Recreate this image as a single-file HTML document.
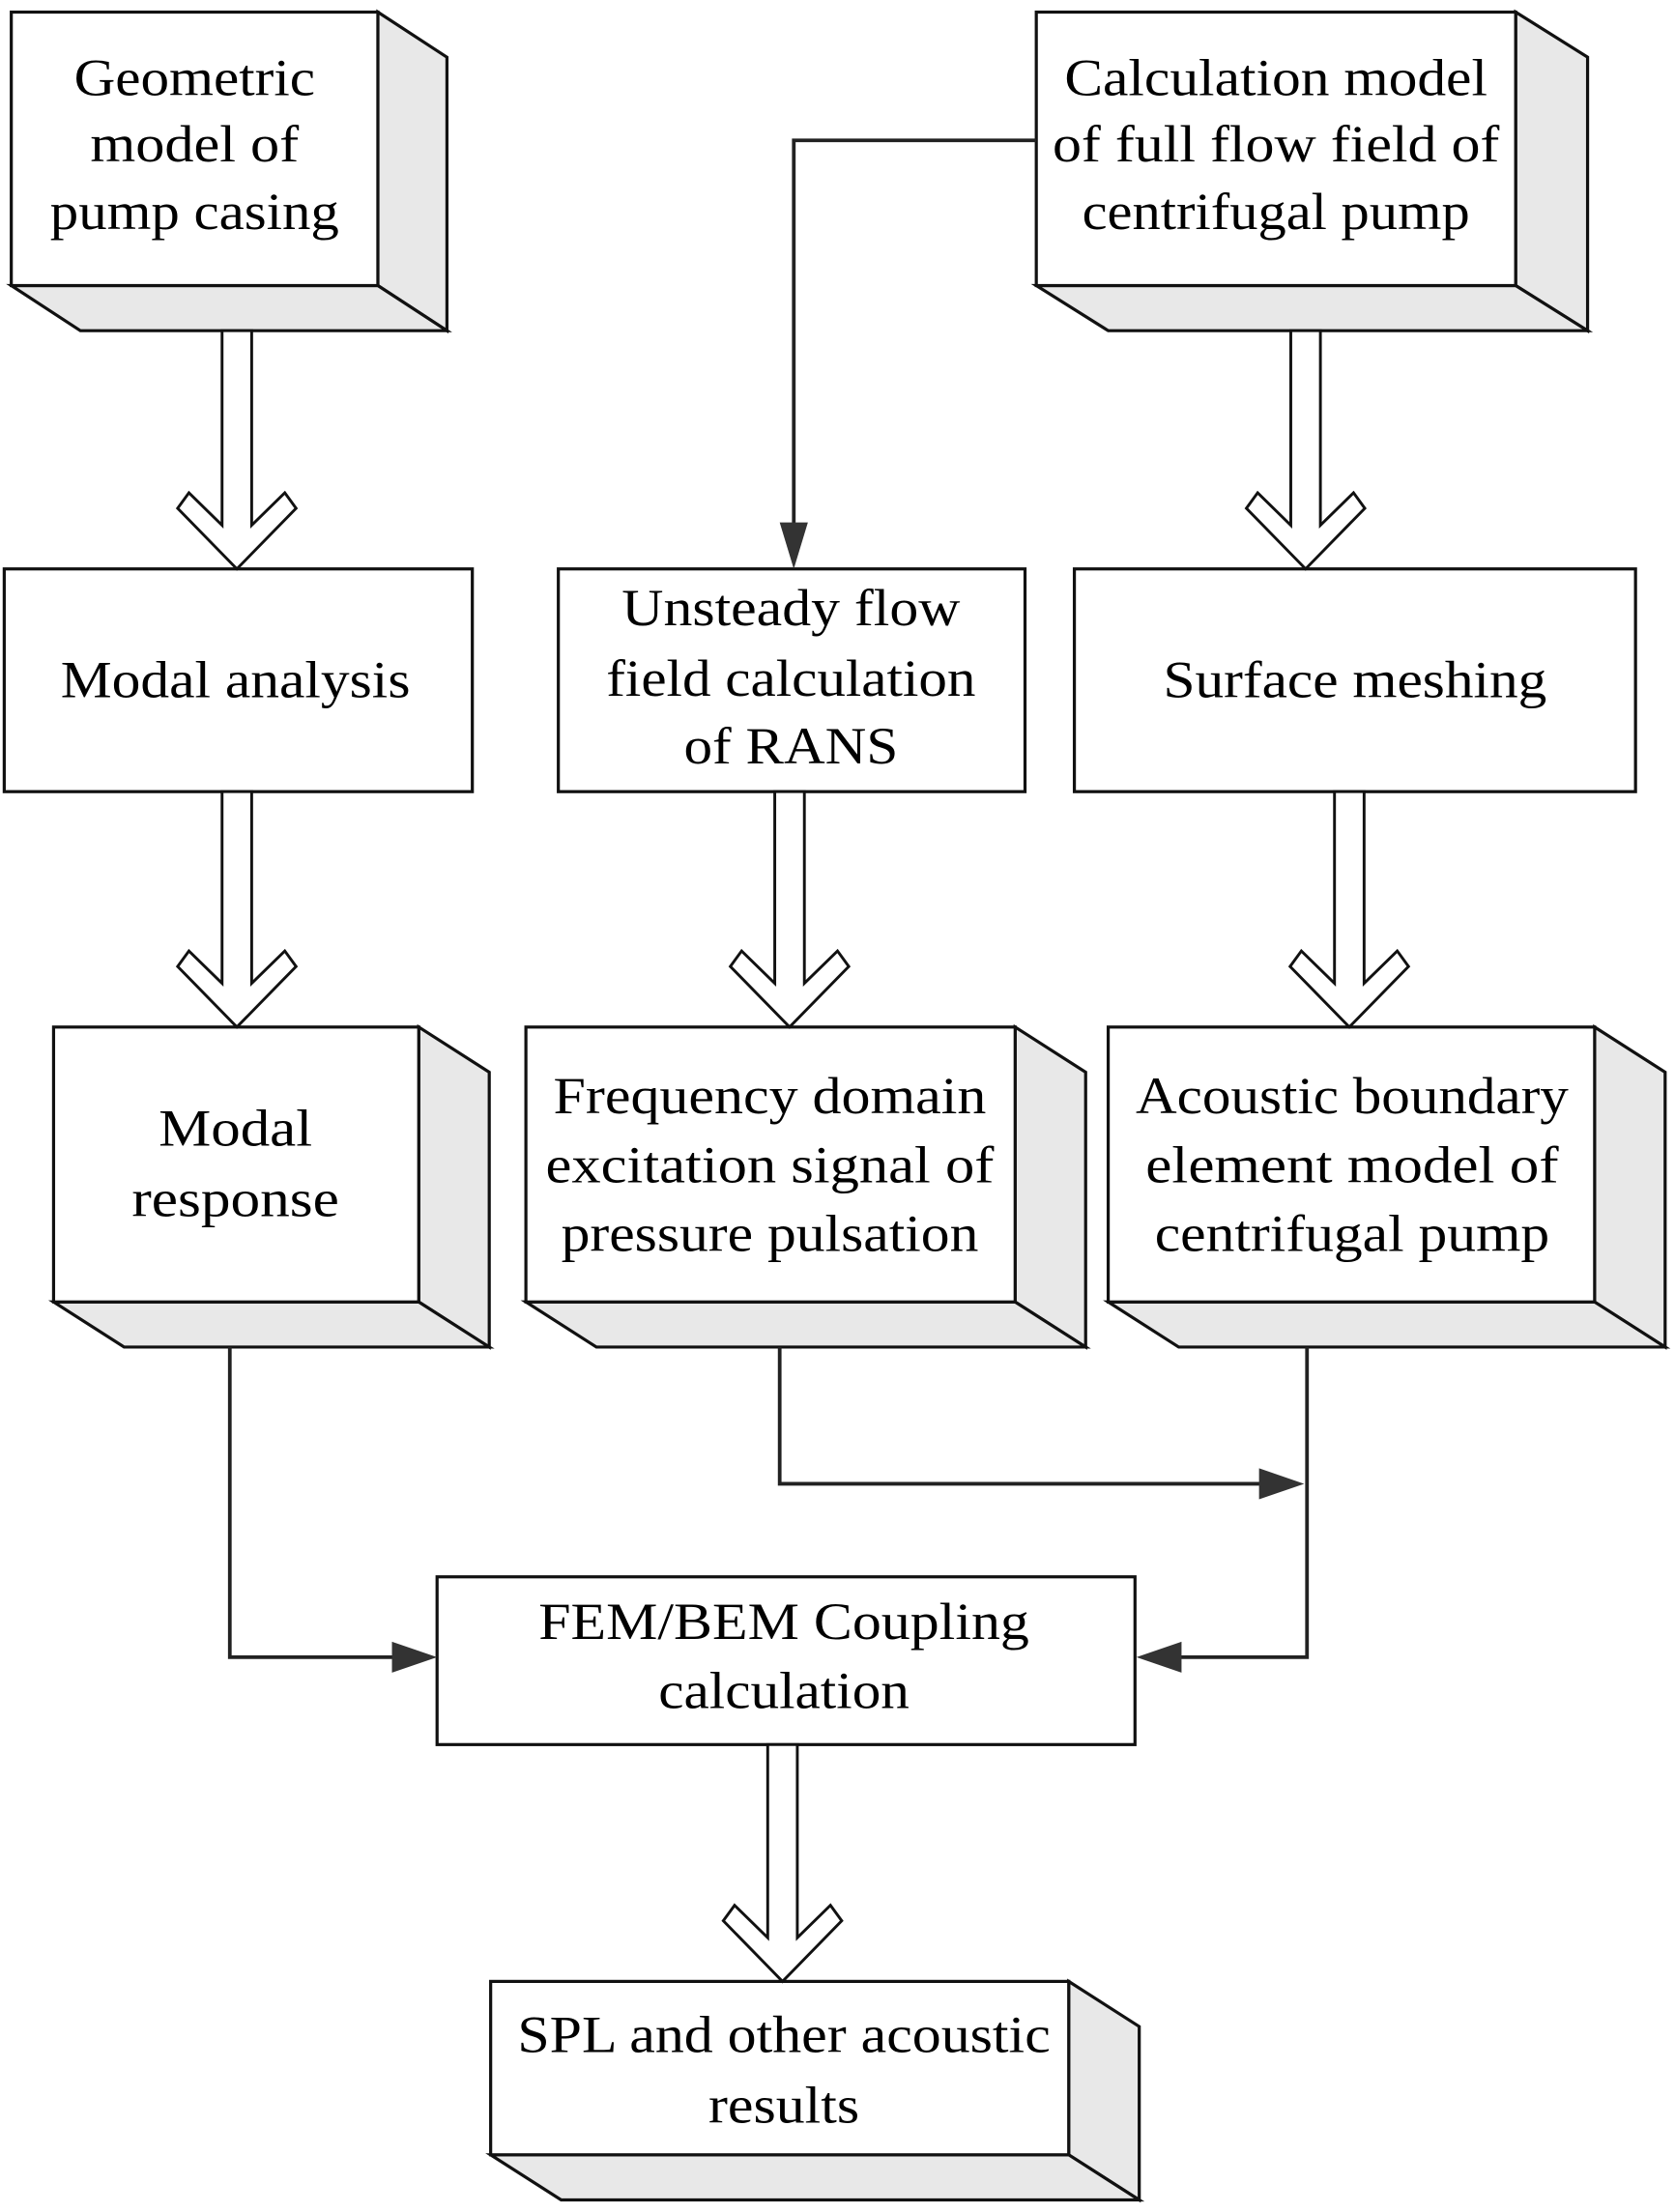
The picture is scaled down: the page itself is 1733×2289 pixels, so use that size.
<!DOCTYPE html>
<html><head><meta charset="utf-8"><style>html,body{margin:0;padding:0;background:#fff}svg{display:block}</style></head>
<body>
<svg width="1733" height="2289" viewBox="0 0 1188 1568" xmlns="http://www.w3.org/2000/svg" font-family="Liberation Serif, serif" font-size="37" text-anchor="middle" fill="#000">
<defs>
<style>.b{fill:#fff;stroke:#111;stroke-width:2.2;stroke-linejoin:miter}.d{fill:#e8e8e8;stroke:#111;stroke-width:2.2}.l{fill:none;stroke:#222;stroke-width:2.6}.h{fill:#fff;stroke:#111;stroke-width:2}.t{fill:#333;stroke:none}</style>
</defs>
<rect width="1188" height="1568" fill="#fff"/>

<!-- 3D box helper drawn manually: front x1..x2,y1..y2, depth dx=49 dy=32 -->
<!-- Box1 -->
<polygon class="d" points="268,8 317,40 317,234 268,202"/>
<polygon class="d" points="8,202 268,202 317,234 57,234"/>
<rect class="b" x="8" y="8" width="260" height="194"/>
<text x="138" y="67" textLength="171" lengthAdjust="spacingAndGlyphs">Geometric</text>
<text x="138" y="114" textLength="148" lengthAdjust="spacingAndGlyphs">model of</text>
<text x="138" y="162" textLength="205" lengthAdjust="spacingAndGlyphs">pump casing</text>

<!-- Calc box -->
<polygon class="d" points="1075,8 1126,40 1126,234 1075,202"/>
<polygon class="d" points="735,202 1075,202 1126,234 786,234"/>
<rect class="b" x="735" y="8" width="340" height="194"/>
<text x="905" y="67" textLength="300" lengthAdjust="spacingAndGlyphs">Calculation model</text>
<text x="905" y="114" textLength="317" lengthAdjust="spacingAndGlyphs">of full flow field of</text>
<text x="905" y="162" textLength="275" lengthAdjust="spacingAndGlyphs">centrifugal pump</text>

<!-- Flat boxes row 2 -->
<rect class="b" x="3" y="403" width="332" height="158"/>
<text x="167" y="494" textLength="248" lengthAdjust="spacingAndGlyphs">Modal analysis</text>
<rect class="b" x="396" y="403" width="331" height="158"/>
<text x="561" y="443" textLength="240" lengthAdjust="spacingAndGlyphs">Unsteady flow</text>
<text x="561" y="493" textLength="262" lengthAdjust="spacingAndGlyphs">field calculation</text>
<text x="561" y="541" textLength="152" lengthAdjust="spacingAndGlyphs">of RANS</text>
<rect class="b" x="762" y="403" width="398" height="158"/>
<text x="961" y="494" textLength="272" lengthAdjust="spacingAndGlyphs">Surface meshing</text>

<!-- Row 3 3D boxes -->
<polygon class="d" points="297,728 347,760 347,955 297,923"/>
<polygon class="d" points="38,923 297,923 347,955 88,955"/>
<rect class="b" x="38" y="728" width="259" height="195"/>
<text x="167" y="812" textLength="109" lengthAdjust="spacingAndGlyphs">Modal</text>
<text x="167" y="862" textLength="147" lengthAdjust="spacingAndGlyphs">response</text>

<polygon class="d" points="720,728 770,760 770,955 720,923"/>
<polygon class="d" points="373,923 720,923 770,955 423,955"/>
<rect class="b" x="373" y="728" width="347" height="195"/>
<text x="546" y="789" textLength="307" lengthAdjust="spacingAndGlyphs">Frequency domain</text>
<text x="546" y="838" textLength="318" lengthAdjust="spacingAndGlyphs">excitation signal of</text>
<text x="546" y="887" textLength="296" lengthAdjust="spacingAndGlyphs">pressure pulsation</text>

<polygon class="d" points="1131,728 1181,760 1181,955 1131,923"/>
<polygon class="d" points="786,923 1131,923 1181,955 836,955"/>
<rect class="b" x="786" y="728" width="345" height="195"/>
<text x="959" y="789" textLength="307" lengthAdjust="spacingAndGlyphs">Acoustic boundary</text>
<text x="959" y="838" textLength="293" lengthAdjust="spacingAndGlyphs">element model of</text>
<text x="959" y="887" textLength="280" lengthAdjust="spacingAndGlyphs">centrifugal pump</text>

<!-- FEM box -->
<rect class="b" x="310" y="1118" width="495" height="119"/>
<text x="556" y="1162" textLength="348" lengthAdjust="spacingAndGlyphs">FEM/BEM Coupling</text>
<text x="556" y="1211" textLength="178" lengthAdjust="spacingAndGlyphs">calculation</text>

<!-- SPL box -->
<polygon class="d" points="758,1405 808,1437 808,1560 758,1528"/>
<polygon class="d" points="348,1528 758,1528 808,1560 398,1560"/>
<rect class="b" x="348" y="1405" width="410" height="123"/>
<text x="556" y="1455" textLength="378" lengthAdjust="spacingAndGlyphs">SPL and other acoustic</text>
<text x="556" y="1505" textLength="107" lengthAdjust="spacingAndGlyphs">results</text>

<!-- Hollow arrows: cx, top, tip -->
<polygon class="h" points="157.5,234 178.5,234 178.5,372 202,349 210,360 168,403 126,360 134,349 157.5,372"/>
<polygon class="h" points="915.5,234 936.5,234 936.5,372 960,349 968,360 926,403 884,360 892,349 915.5,372"/>
<polygon class="h" points="157.5,561 178.5,561 178.5,697 202,674 210,685 168,728 126,685 134,674 157.5,697"/>
<polygon class="h" points="549.5,561 570.5,561 570.5,697 594,674 602,685 560,728 518,685 526,674 549.5,697"/>
<polygon class="h" points="946.5,561 967.5,561 967.5,697 991,674 999,685 957,728 915,685 923,674 946.5,697"/>
<polygon class="h" points="544.5,1237 565.5,1237 565.5,1374 589,1351 597,1362 555,1405 513,1362 521,1351 544.5,1374"/>

<!-- Line connectors -->
<polyline class="l" points="735,99 563,99 563,372"/>
<polygon class="t" points="553,370 573,370 563,403"/>

<polyline class="l" points="163,955 163,1175 282,1175"/>
<polygon class="t" points="278,1164 278,1186 310,1175"/>

<polyline class="l" points="553,955 553,1052 896,1052"/>
<polygon class="t" points="893,1041 893,1063 925,1052"/>

<polyline class="l" points="927,955 927,1175 834,1175"/>
<polygon class="t" points="838,1164 838,1186 806,1175"/>
</svg>
</body></html>
